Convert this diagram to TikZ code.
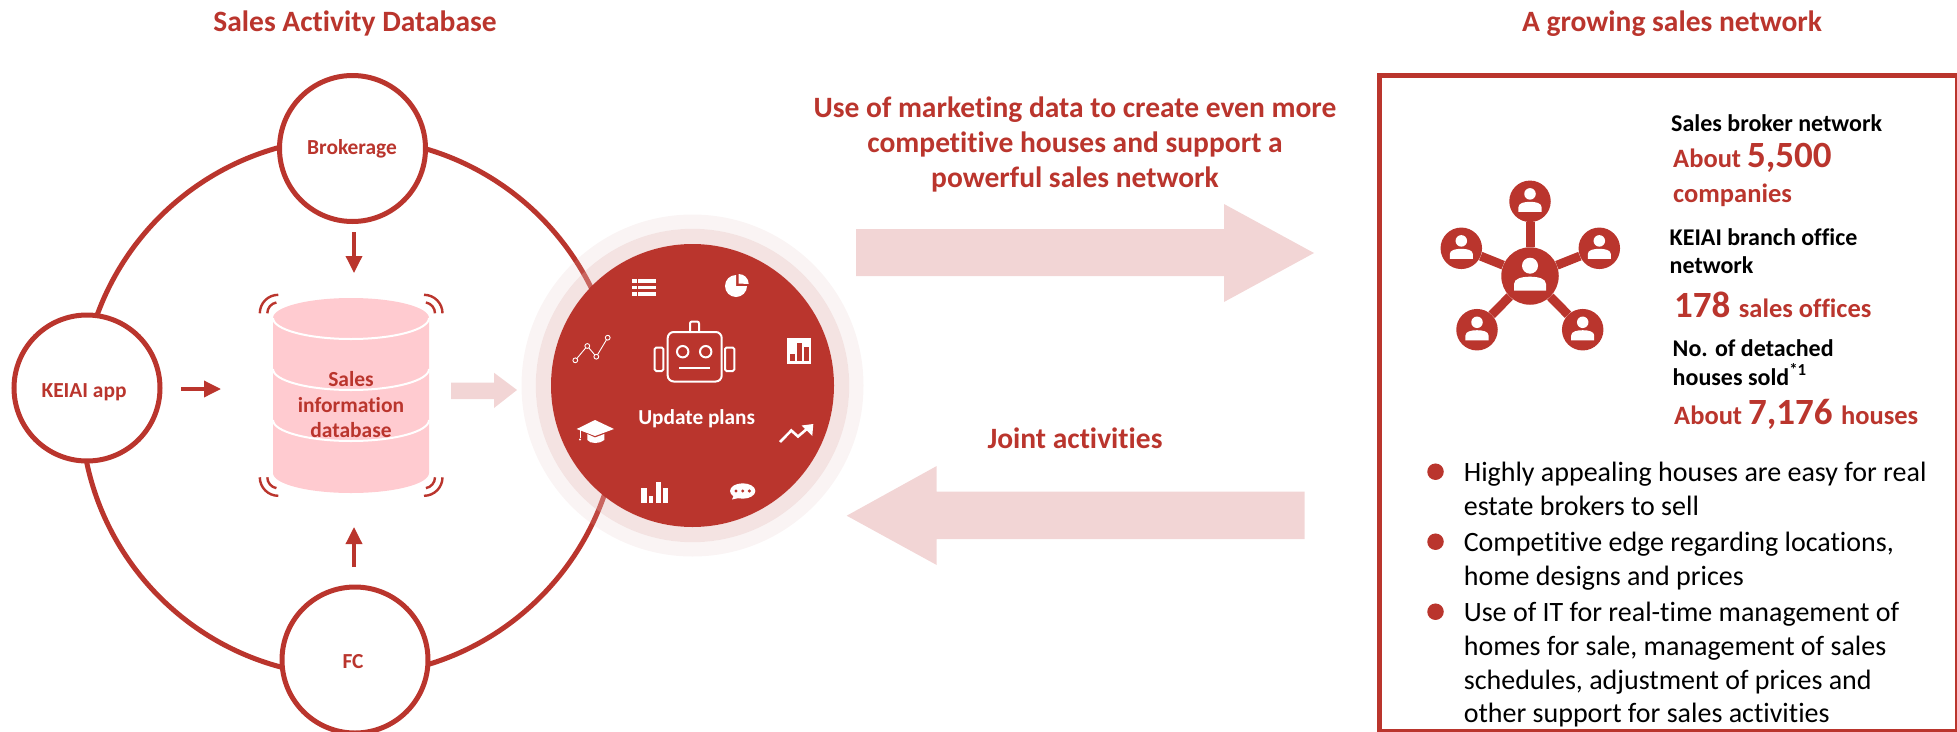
\documentclass[tikz,border=0pt]{standalone}
\usepackage{fontspec}
\setmainfont{Carlito}[Ligatures=NoCommon]
\usetikzlibrary{arrows.meta}
\definecolor{kred}{HTML}{BA352D}
\definecolor{kpink}{HTML}{F2D5D5}
\definecolor{kdb}{HTML}{FFCBD0}
\definecolor{haloA}{RGB}{221,182,180}
\definecolor{haloB}{RGB}{226,181,179}
\newcommand{\fs}[1]{\fontsize{#1}{#1}\selectfont}
\tikzset{
  ringline/.style={draw=kred,line width=5pt},
  actor/.style={circle,draw=kred,line width=5pt,fill=white,minimum size=146pt,inner sep=0pt},
  actorlabel/.style={anchor=base,text=kred,font=\fs{21.4}\bfseries,inner sep=0pt},
  head/.style={anchor=base,text=kred,font=\fs{29.5}\bfseries,inner sep=0pt},
  redtext/.style={anchor=base west,text=kred,font=\bfseries,inner sep=0pt},
  blacktext/.style={anchor=base west,text=black,font=\fs{24}\bfseries,inner sep=0pt},
  bodytext/.style={anchor=base west,text=black,font=\fs{28},inner sep=0pt},
  smallarrow/.style={draw=kred,line width=3.5pt,-{Triangle[length=17pt,width=16pt]}},
  wave/.style={draw=kred,line width=2.4pt},
  dbline/.style={draw=white,line width=2pt},
  icon/.style={draw=white,line width=2pt},
  netnode/.style={circle,fill=kred,inner sep=0pt,minimum size=41.5pt},
  netcore/.style={circle,fill=kred,inner sep=0pt,minimum size=57.5pt},
  netlink/.style={draw=kred,line width=9pt},
  dot/.style={circle,fill=kred,inner sep=0pt,minimum size=16.5pt},
  personicon/.pic={
    \fill[white] (0,-10.3) circle[radius=8pt];
    \fill[white] (-16,14.7) -- (-16,8) .. controls (-16,2.5) and (-8,.7) .. (0,.7)
      .. controls (8,.7) and (16,2.5) .. (16,8) -- (16,14.7) -- cycle;
  }
}
\begin{document}
\begin{tikzpicture}[x=1pt,y=-1pt]
\path[use as bounding box] (0,0) rectangle (1957,731);
\clip (0,0) rectangle (1957,731);

% big ring
\draw[ringline] (350,407) circle[radius=269pt];

% actors
\node[actor] (brok) at (352.5,148.5) {};
\node[actor] (keiai) at (87,388) {};
\node[actor] (fc) at (355,660) {};
\node[actorlabel] (brokT) at (352,154.5) {Brokerage};
\node[actorlabel] (keiaiT) at (84,397) {KEIAI app};
\node[actorlabel] (fcT) at (353,668) {FC};

% database
\fill[kdb] (273,318) arc[start angle=180,end angle=0,x radius=78pt,y radius=20pt]
  -- (429,473) arc[start angle=0,end angle=-180,x radius=78pt,y radius=20pt] -- cycle;
\draw[dbline] (273,318) arc[start angle=180,end angle=360,x radius=78pt,y radius=21pt];
\draw[dbline] (273,369) arc[start angle=180,end angle=360,x radius=78pt,y radius=21pt];
\draw[dbline] (273,420) arc[start angle=180,end angle=360,x radius=78pt,y radius=21pt];
\node[anchor=base,text=kred,font=\fs{21.5}\bfseries,inner sep=0pt] (dbA) at (351,386.7) {Sales};
\node[anchor=base,text=kred,font=\fs{21.5}\bfseries,inner sep=0pt] (dbB) at (351,412.7) {information};
\node[anchor=base,text=kred,font=\fs{21.5}\bfseries,inner sep=0pt] (dbC) at (351,437.3) {database};

% waves
\draw[wave] (278.3,313.3) ++(-18.5pt,0pt) arc[start angle=180,end angle=90,radius=18.5pt];
\draw[wave] (278.3,313.3) ++(-11pt,0pt) arc[start angle=180,end angle=100,radius=11pt];
\draw[wave] (424,313.3) ++(18.5pt,0pt) arc[start angle=0,end angle=90,radius=18.5pt];
\draw[wave] (424,313.3) ++(11pt,0pt) arc[start angle=0,end angle=80,radius=11pt];
\draw[wave] (278.3,477.3) ++(-18.5pt,0pt) arc[start angle=180,end angle=270,radius=18.5pt];
\draw[wave] (278.3,477.3) ++(-11pt,0pt) arc[start angle=180,end angle=260,radius=11pt];
\draw[wave] (424,477.3) ++(18.5pt,0pt) arc[start angle=0,end angle=-90,radius=18.5pt];
\draw[wave] (424,477.3) ++(11pt,0pt) arc[start angle=0,end angle=-80,radius=11pt];

% small arrows
\coordinate (a1s) at (354,232); \coordinate (a1e) at (354,273);
\coordinate (a2s) at (354,567); \coordinate (a2e) at (354,527);
\coordinate (a3s) at (181,389); \coordinate (a3e) at (221,389);
\draw[smallarrow] (a1s) -- (a1e);
\draw[smallarrow] (a2s) -- (a2e);
\draw[smallarrow] (a3s) -- (a3e);

% pink arrows
\fill[kpink] (451,382.7) -- (494,382.7) -- (494,372.7) -- (517,390) -- (494,408) -- (494,399) -- (451,399) -- cycle;
\fill[kpink] (856,229) -- (1224,229) -- (1224,204) -- (1314,253) -- (1224,302) -- (1224,276) -- (856,276) -- cycle;
\fill[kpink] (1304.7,491.7) -- (936.7,491.7) -- (936.7,466) -- (846.7,515.7) -- (936.7,565) -- (936.7,539) -- (1304.7,539) -- cycle;

% halo and central disc
\fill[haloA,opacity=.15,even odd rule] (692.5,385.5) circle[radius=171pt] circle[radius=156.7pt];
\fill[haloB,opacity=.38,even odd rule] (692.5,385.5) circle[radius=156.7pt] circle[radius=141.5pt];
\node[circle,fill=kred,inner sep=0pt,minimum size=283pt] (core) at (692.5,385.5) {};
\node[anchor=base,text=white,font=\fs{21.3}\bfseries,inner sep=0pt] (upd) at (696.7,424) {Update plans};

% robot
\draw[icon,rounded corners=6pt] (667.7,332) rectangle (721.7,381.5);
\draw[icon,rounded corners=2pt] (690,332) -- (690,321.5) -- (699,321.5) -- (699,332);
\draw[icon,rounded corners=1.5pt] (654.7,347.5) rectangle (663.3,371);
\draw[icon,rounded corners=1.5pt] (725,347.5) rectangle (734.3,371);
\draw[icon] (682.7,351.7) circle[radius=5.7pt];
\draw[icon] (705.7,351.7) circle[radius=5.7pt];
\draw[icon,line width=2.4pt] (679,367.7) -- (710,367.7);

% list
\foreach \yy in {281,287.3,294}{
  \fill[white] (632.3,\yy-1.7) rectangle (636.7,\yy+1.7);
  \fill[white] (638.3,\yy-1.7) rectangle (655.7,\yy+1.7);
}
% pie
\fill[white] (736,286) -- (736,275) arc[start angle=90,end angle=360,radius=11pt] -- cycle;
\fill[white] (738.7,283.5) -- (738.7,274) arc[start angle=90,end angle=0,radius=10pt] -- cycle;
% bar box
\fill[white] (786.7,338.3) rectangle (811.3,364.3);
\fill[kred] (789.7,354) rectangle (795,361.3);
\fill[kred] (796.7,343.3) rectangle (802,361.3);
\fill[kred] (804,346.7) rectangle (808.7,361.3);
% line chart
\draw[white,line width=.9pt] (575.3,360.3) -- (587.3,346) -- (596.3,356.7) -- (607.7,337.7);
\foreach \px/\py in {575.3/360.3,587.3/346,596.3/356.7,607.7/337.7}{
  \draw[white,line width=.9pt,fill=kred] (\px,\py) circle[radius=2.4pt];
}
% mortarboard
\fill[white] (595,420) -- (614,429) -- (595,436) -- (576.7,429) -- cycle;
\fill[white] (587.3,434) -- (595,437.5) -- (604.3,434) -- (604.3,440) .. controls (600,444) and (590,444) .. (587.3,440) -- cycle;
\draw[white,line width=.8pt] (580,430) -- (580,438);
\fill[white] (580,439.5) circle[radius=1.2pt];
% trend
\draw[white,line width=2.6pt] (780,442) -- (791.3,430.5) -- (798,436.5) -- (808,428);
\fill[white] (801.7,425.5) -- (813.3,424) -- (812.3,436) -- cycle;
% bars
\fill[white] (641.3,488.3) rectangle (646.7,503.3);
\fill[white] (648.7,496) rectangle (653.3,503.3);
\fill[white] (655.7,481.7) rectangle (661,503.3);
\fill[white] (663.3,488.3) rectangle (667.7,503.3);
% speech bubble
\fill[white] (742.7,491) circle[x radius=12.7pt,y radius=7.7pt];
\fill[white] (734,495) -- (732,499.5) -- (741,497.5) -- cycle;
\foreach \px in {736,742.7,749.3}{\fill[kred] (\px,491) circle[radius=1.7pt];}

% headings
\node[head] (hA) at (355,31.7) {Sales Activity Database};
\node[head] (hB) at (1672,31.7) {A growing sales network};
\node[head] (mA) at (1075,117) {Use of marketing data to create even more};
\node[head] (mB) at (1075,152) {competitive houses and support a};
\node[head] (mC) at (1075,187) {powerful sales network};
\node[head] (jA) at (1075,448) {Joint activities};

% box
\draw[draw=kred,line width=5pt] (1379.5,75) rectangle (1957,731);

% network icon
\node[netcore] (n0) at (1530,276) {};
\node[netnode] (n1) at (1530,201.3) {};
\node[netnode] (n2) at (1461.3,248.3) {};
\node[netnode] (n3) at (1599.3,248.3) {};
\node[netnode] (n4) at (1477,329.7) {};
\node[netnode] (n5) at (1582.7,329.7) {};
\foreach \n in {n1,n2,n3,n4,n5}{\draw[netlink] (n0) -- (\n);}
\pic at (n0) {personicon};
\foreach \n in {n1,n2,n3,n4,n5}{\pic[scale=.72] at (\n) {personicon};}

% stats
\node[blacktext] (s1) at (1671,131) {Sales broker network};
\node[redtext] (s2) at (1673,167) {\fs{26.5}About \fs{37}5,500};
\node[redtext] (s3) at (1673,202) {\fs{26.5}companies};
\node[blacktext] (s4) at (1669.5,245) {KEIAI branch office};
\node[blacktext] (s5) at (1669.5,273) {network};
\node[redtext] (s6) at (1674,317) {\fs{37}178 \fs{26.5}sales offices};
\node[blacktext] (s7) at (1672.5,356) {No. of detached};
\node[blacktext] (s8) at (1672.5,385) {houses sold\textsuperscript{*1}};
\node[redtext] (s9) at (1674,424) {\fs{26.5}About \fs{37}7,176 \fs{26.5}houses};

% bullets
\node[dot] (b1) at (1435.5,471.7) {};
\node[dot] (b2) at (1435.5,541.7) {};
\node[dot] (b3) at (1435.5,611.7) {};
\node[bodytext] (t1) at (1463.6,481.7) {Highly appealing houses are easy for real};
\node[bodytext] (t2) at (1463.6,515) {estate brokers to sell};
\node[bodytext] (t3) at (1463.6,551.7) {Competitive edge regarding locations,};
\node[bodytext] (t4) at (1463.6,585) {home designs and prices};
\node[bodytext] (t5) at (1463.6,621.7) {Use of IT for real-time management of};
\node[bodytext] (t6) at (1463.6,655) {homes for sale, management of sales};
\node[bodytext] (t7) at (1463.6,689) {schedules, adjustment of prices and};
\node[bodytext] (t8) at (1463.6,722.7) {other support for sales activities};
\end{tikzpicture}
\end{document}
